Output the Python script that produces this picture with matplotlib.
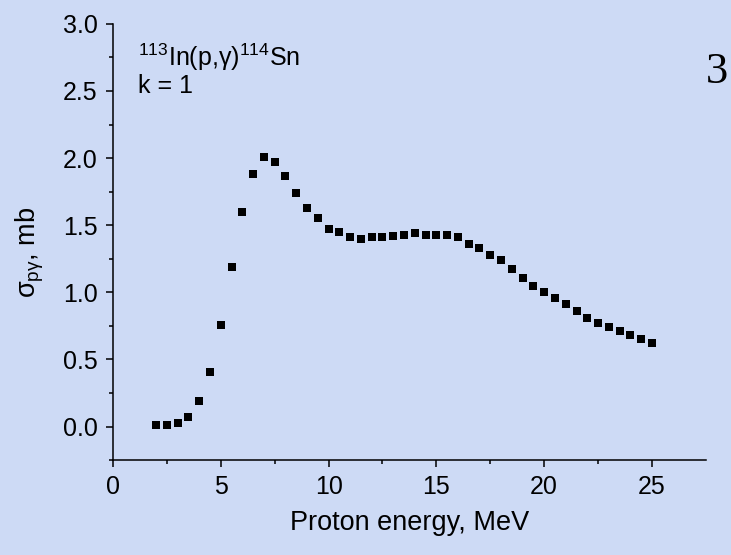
import numpy as np
import matplotlib
matplotlib.use("Agg")
import matplotlib.pyplot as plt

plt.rcParams['font.family'] = ['Liberation Sans', 'DejaVu Sans']
plt.rcParams['mathtext.fontset'] = 'custom'
plt.rcParams['mathtext.rm'] = 'Liberation Sans'
plt.rcParams['mathtext.it'] = 'Liberation Sans'

# proton energy (MeV) and cross section (mb)
energy = [2.0, 2.5, 3.0, 3.5, 4.0, 4.5, 5.0, 5.5, 6.0, 6.5, 7.0, 7.5, 8.0,
          8.5, 9.0, 9.5, 10.0, 10.5, 11.0, 11.5, 12.0, 12.5, 13.0, 13.5,
          14.0, 14.5, 15.0, 15.5, 16.0, 16.5, 17.0, 17.5, 18.0, 18.5, 19.0,
          19.5, 20.0, 20.5, 21.0, 21.5, 22.0, 22.5, 23.0, 23.5, 24.0, 24.5,
          25.0]
sigma = [0.01, 0.01, 0.025, 0.07, 0.19, 0.41, 0.76, 1.19, 1.60, 1.88, 2.01,
         1.97, 1.87, 1.74, 1.63, 1.55, 1.47, 1.45, 1.41, 1.40, 1.41, 1.41,
         1.42, 1.43, 1.44, 1.43, 1.43, 1.43, 1.41, 1.36, 1.33, 1.28, 1.24,
         1.17, 1.11, 1.05, 1.00, 0.96, 0.91, 0.86, 0.81, 0.77, 0.74, 0.71,
         0.68, 0.65, 0.62]

bg = '#cddaf5'
fig = plt.figure(figsize=(7.31, 5.55), dpi=100, facecolor=bg)
ax = fig.add_axes([0.1546, 0.171, 0.811, 0.786])
ax.set_facecolor(bg)

ax.plot(energy, sigma, 's', color='black', markersize=5.5, markeredgewidth=0)

ax.set_xlim(0, 27.5)
ax.set_ylim(-0.25, 3.0)
ax.set_xticks([0, 5, 10, 15, 20, 25])
ax.set_xticks(np.arange(2.5, 27.5, 5), minor=True)
ax.set_yticks([0.0, 0.5, 1.0, 1.5, 2.0, 2.5, 3.0])
ax.set_yticks(np.arange(-0.25, 3.0, 0.5), minor=True)
ax.set_yticklabels(['0.0', '0.5', '1.0', '1.5', '2.0', '2.5', '3.0'])

for s in ['top', 'right']:
    ax.spines[s].set_visible(False)
for s in ['left', 'bottom']:
    ax.spines[s].set_linewidth(1.1)

ax.tick_params(which='major', direction='out', length=5, width=1.1,
               labelsize=18, pad=6)
ax.tick_params(which='minor', direction='out', length=3, width=1.1)

ax.set_xlabel('Proton energy, MeV', fontsize=19.5, labelpad=8)
ax.set_ylabel(r'$\sigma_{p\gamma}$, mb', fontsize=19.5)
ax.yaxis.set_label_coords(-0.113, 0.475)

ax.text(0.042, 0.904, r'$^{113}$In(p,$\gamma$)$^{114}$Sn', transform=ax.transAxes,
        fontsize=18, va='baseline')
ax.text(0.042, 0.842, 'k = 1', transform=ax.transAxes, fontsize=18,
        va='baseline')

fig.text(0.981, 0.87, '3', family='Liberation Serif', fontsize=32,
         ha='center', va='center')

fig.savefig('out.png', dpi=100, facecolor=bg)
